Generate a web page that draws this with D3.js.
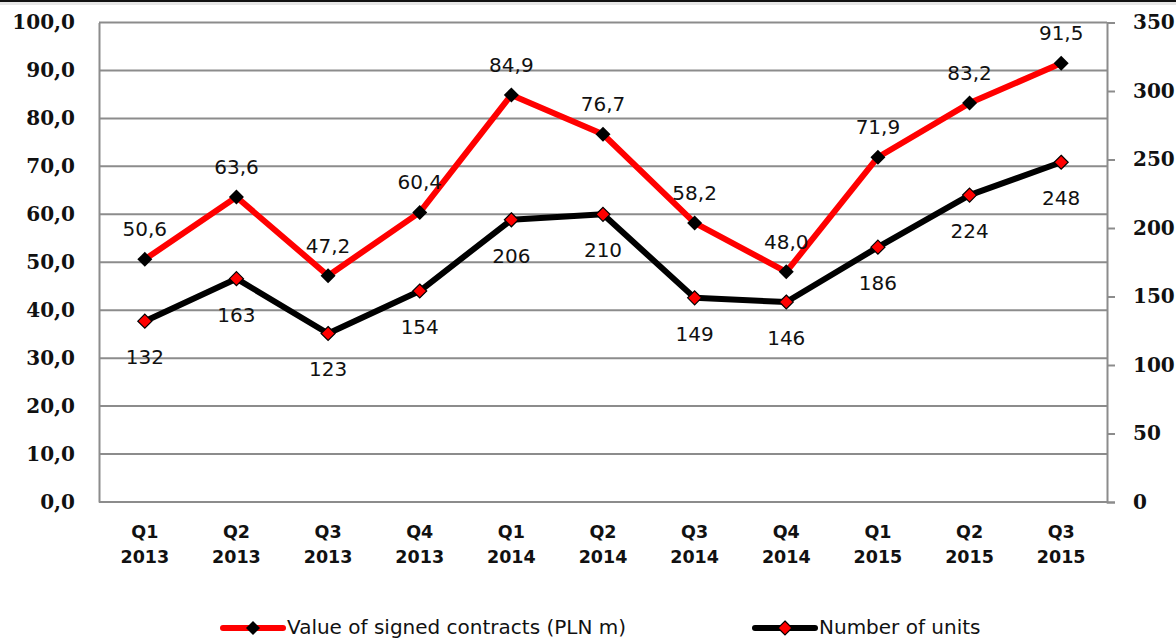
<!DOCTYPE html>
<html>
<head>
<meta charset="utf-8">
<script src="https://cdn.jsdelivr.net/npm/d3@7"></script>
<style>
  body { margin: 0; background: #fff; }
  #chart { width: 1176px; height: 640px; }
</style>
</head>
<body>
<div id="chart"></div>
<script>
const categories = ['Q1 2013', 'Q2 2013', 'Q3 2013', 'Q4 2013', 'Q1 2014', 'Q2 2014', 'Q3 2014', 'Q4 2014', 'Q1 2015', 'Q2 2015', 'Q3 2015']
const contractValues = [50.6, 63.6, 47.2, 60.4, 84.9, 76.7, 58.2, 48.0, 71.9, 83.2, 91.5]
const unitCounts = [132, 163, 123, 154, 206, 210, 149, 146, 186, 224, 248]
const leftTicks = [0, 10, 20, 30, 40, 50, 60, 70, 80, 90, 100]
const rightTicks = [0, 50, 100, 150, 200, 250, 300, 350]
const seriesNames = ['Value of signed contracts (PLN m)', 'Number of units']

const width = 1176
const height = 640
const margin = { top: 22.5, right: 69, bottom: 138, left: 99 }
const labelFont = '"DejaVu Sans", sans-serif'
const axisFont = '"DejaVu Serif", serif'

const svg = d3.select('#chart')
  .append('svg')
  .attr('width', width)
  .attr('height', height)

// top frame strip
svg.append('rect').attr('x', 0).attr('y', 0).attr('width', width).attr('height', 2).attr('fill', '#111')
svg.append('rect').attr('x', 0).attr('y', 2).attr('width', width).attr('height', 3).attr('fill', '#e6e6e6')

const x = d3.scaleBand()
  .domain(categories)
  .range([margin.left, width - margin.right])

const yLeft = d3.scaleLinear()
  .domain([0, 100])
  .range([height - margin.bottom, margin.top])

const yRight = d3.scaleLinear()
  .domain([0, 350])
  .range([height - margin.bottom, margin.top])

const cx = d => x(d) + x.bandwidth() / 2

// gridlines
svg.append('g')
  .selectAll('line')
  .data(leftTicks)
  .enter()
  .append('line')
  .attr('x1', margin.left)
  .attr('x2', width - margin.right)
  .attr('y1', d => yLeft(d))
  .attr('y2', d => yLeft(d))
  .attr('stroke', '#8c8c8c')
  .attr('stroke-width', 2)

// left axis
const leftAxis = svg.append('g')
  .attr('transform', `translate(${margin.left},0)`)
  .call(d3.axisLeft(yLeft).tickValues(leftTicks).tickSize(0).tickPadding(24)
    .tickFormat(d => d3.format('.1f')(d).replace('.', ',')))
leftAxis.select('.domain').attr('stroke', '#8c8c8c').attr('stroke-width', 2)
leftAxis.selectAll('text')
  .attr('font-family', axisFont)
  .attr('font-weight', 'bold')
  .attr('font-size', 20)
  .attr('fill', '#111')

// right axis
const rightAxis = svg.append('g')
  .attr('transform', `translate(${width - margin.right},0)`)
  .call(d3.axisRight(yRight).tickValues(rightTicks).tickSize(8).tickPadding(18))
rightAxis.select('.domain').attr('stroke', '#8c8c8c').attr('stroke-width', 2)
rightAxis.selectAll('line').attr('stroke', '#8c8c8c').attr('stroke-width', 2)
rightAxis.selectAll('text')
  .attr('font-family', axisFont)
  .attr('font-weight', 'bold')
  .attr('font-size', 20)
  .attr('fill', '#111')

// category labels
const catLabels = svg.append('g')
  .selectAll('text')
  .data(categories)
  .enter()
  .append('text')
  .attr('x', d => cx(d))
  .attr('text-anchor', 'middle')
  .attr('font-family', '"DejaVu Sans", sans-serif')
  .attr('font-weight', 'bold')
  .attr('font-size', 17.5)
  .attr('fill', '#111')
catLabels.append('tspan')
  .attr('x', d => cx(d))
  .attr('y', 538)
  .text(d => d.split(' ')[0])
catLabels.append('tspan')
  .attr('x', d => cx(d))
  .attr('y', 563)
  .text(d => d.split(' ')[1])

const lineValue = d3.line()
  .x((d, i) => cx(categories[i]))
  .y(d => yLeft(d))
const lineUnits = d3.line()
  .x((d, i) => cx(categories[i]))
  .y(d => yRight(d))

const diamond = s => `M0,${-s}L${s},0L0,${s}L${-s},0Z`

// units line (black, red markers)
svg.append('path')
  .datum(unitCounts)
  .attr('d', lineUnits)
  .attr('fill', 'none')
  .attr('stroke', '#000')
  .attr('stroke-width', 6)
  .attr('stroke-linejoin', 'round')

// value line (red, black markers)
svg.append('path')
  .datum(contractValues)
  .attr('d', lineValue)
  .attr('fill', 'none')
  .attr('stroke', '#ff0000')
  .attr('stroke-width', 6)
  .attr('stroke-linejoin', 'round')

svg.append('g')
  .selectAll('path')
  .data(unitCounts)
  .enter()
  .append('path')
  .attr('transform', (d, i) => `translate(${cx(categories[i])},${yRight(d)})`)
  .attr('d', diamond(7))
  .attr('fill', '#ff0000')
  .attr('stroke', '#000')
  .attr('stroke-width', 1.2)

svg.append('g')
  .selectAll('path')
  .data(contractValues)
  .enter()
  .append('path')
  .attr('transform', (d, i) => `translate(${cx(categories[i])},${yLeft(d)})`)
  .attr('d', diamond(7.5))
  .attr('fill', '#000')

// data labels
svg.append('g')
  .selectAll('text')
  .data(contractValues)
  .enter()
  .append('text')
  .attr('x', (d, i) => cx(categories[i]))
  .attr('y', d => yLeft(d) - 23)
  .attr('text-anchor', 'middle')
  .attr('font-family', labelFont)
  .attr('font-size', 20)
  .attr('fill', '#111')
  .text(d => d3.format('.1f')(d).replace('.', ','))

svg.append('g')
  .selectAll('text')
  .data(unitCounts)
  .enter()
  .append('text')
  .attr('x', (d, i) => cx(categories[i]))
  .attr('y', d => yRight(d) + 43)
  .attr('text-anchor', 'middle')
  .attr('font-family', labelFont)
  .attr('font-size', 20)
  .attr('fill', '#111')
  .text(d => d)

// legend
const legendItems = [
  { name: seriesNames[0], x: 223, line: '#ff0000', marker: '#000', outline: 'none' },
  { name: seriesNames[1], x: 755, line: '#000', marker: '#ff0000', outline: '#000' }
]
const legend = svg.append('g')
  .selectAll('g')
  .data(legendItems)
  .enter()
  .append('g')
  .attr('transform', d => `translate(${d.x},628)`)
legend.append('line')
  .attr('x1', 0).attr('x2', 60)
  .attr('y1', 0).attr('y2', 0)
  .attr('stroke', d => d.line)
  .attr('stroke-width', 6)
  .attr('stroke-linecap', 'round')
legend.append('path')
  .attr('transform', 'translate(30,0)')
  .attr('d', diamond(7))
  .attr('fill', d => d.marker)
  .attr('stroke', d => d.outline)
  .attr('stroke-width', 1.2)
legend.append('text')
  .attr('x', 64)
  .attr('y', 6)
  .attr('font-family', labelFont)
  .attr('font-size', 20)
  .attr('fill', '#111')
  .text(d => d.name)
</script>
</body>
</html>
